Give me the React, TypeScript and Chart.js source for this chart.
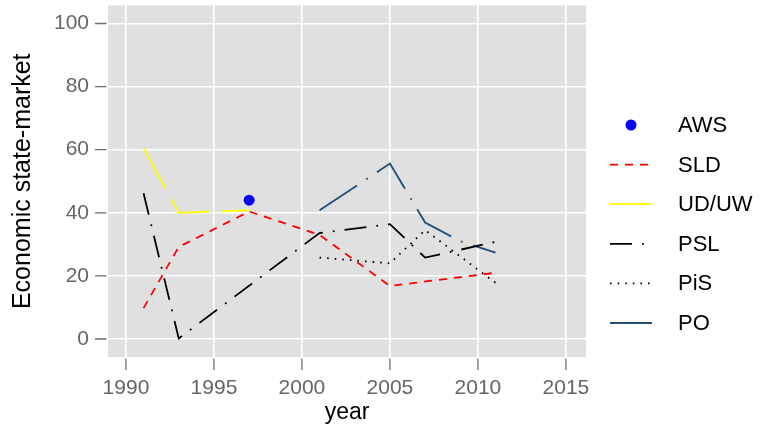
import React, { useEffect, useRef } from "react";
import { Chart, registerables } from "chart.js";

Chart.register(...registerables);

const xTicks = [1990, 1995, 2000, 2005, 2010, 2015];
const yTicks = [0, 20, 40, 60, 80, 100];

const awsYears = [1997];
const awsValues = [44];
const sldYears = [1991, 1993, 1997, 2001, 2005, 2011];
const sldValues = [9.8, 29.2, 40.4, 33, 16.8, 21];
const udYears = [1991, 1993, 1997];
const udValues = [60.4, 40, 40.8];
const pslYears = [1991, 1993, 2001, 2005, 2007, 2011];
const pslValues = [46.2, 0.2, 33.6, 36.4, 25.8, 30.8];
const pisYears = [2001, 2005, 2007, 2011];
const pisValues = [25.8, 24, 34.5, 17.8];
const poYears = [2001, 2005, 2007, 2009, 2011];
const poValues = [40.8, 55.6, 36.9, 31, 27.4];

const FONT = "'Liberation Sans', Arimo, Helvetica, Arial, sans-serif";

const pts = (xs: number[], ys: number[]) => xs.map((x, i) => ({ x, y: ys[i] }));

const panelBg = {
  id: "panelBg",
  beforeDraw(chart: any) {
    const { ctx, chartArea: a } = chart;
    ctx.save();
    ctx.fillStyle = "#e0e0e0";
    ctx.fillRect(a.left, a.top, a.right - a.left, a.bottom - a.top);
    ctx.restore();
  },
};

const tickMarks = {
  id: "tickMarks",
  afterDraw(chart: any) {
    const { ctx, chartArea: a, scales } = chart;
    ctx.save();
    ctx.strokeStyle = "#6e6e6e";
    ctx.lineWidth = 1.3;
    ctx.beginPath();
    for (const t of scales.x.ticks) {
      const px = scales.x.getPixelForValue(t.value);
      ctx.moveTo(px, a.bottom + 1.5);
      ctx.lineTo(px, a.bottom + 13);
    }
    for (const t of scales.y.ticks) {
      const py = scales.y.getPixelForValue(t.value);
      ctx.moveTo(a.left - 1.5, py);
      ctx.lineTo(a.left - 13, py);
    }
    ctx.stroke();
    ctx.restore();
  },
};

const customLegend = {
  id: "customLegend",
  afterDraw(chart: any) {
    const { ctx } = chart;
    const ds = chart.data.datasets;
    ctx.save();
    ctx.font = `22px ${FONT}`;
    ctx.textBaseline = "middle";
    ds.forEach((d: any, i: number) => {
      const y = 125 + i * 39.6;
      if (d.showLine === false) {
        ctx.fillStyle = d.backgroundColor;
        ctx.beginPath();
        ctx.arc(631, y, d.pointRadius, 0, Math.PI * 2);
        ctx.fill();
      } else {
        ctx.strokeStyle = d.borderColor;
        ctx.lineWidth = d.borderWidth;
        ctx.setLineDash(d.borderDash || []);
        ctx.beginPath();
        ctx.moveTo(610, y);
        ctx.lineTo(652, y);
        ctx.stroke();
        ctx.setLineDash([]);
      }
      ctx.fillStyle = "#000";
      ctx.fillText(d.label, 678, y + 1);
    });
    ctx.restore();
  },
};

export default function App() {
  const ref = useRef<HTMLCanvasElement | null>(null);
  useEffect(() => {
    if (!ref.current) return;
    const lineBase = { pointRadius: 0, fill: false, tension: 0, borderCapStyle: "butt" as const, borderJoinStyle: "miter" as const };
    const chart = new Chart(ref.current, {
      type: "line",
      data: {
        datasets: [
          { label: "AWS", data: pts(awsYears, awsValues), showLine: false, pointRadius: 5.5, backgroundColor: "#0000ff", borderColor: "#0000ff", borderWidth: 0 },
          { ...lineBase, label: "SLD", data: pts(sldYears, sldValues), borderColor: "#ff0000", borderWidth: 1.8, borderDash: [8, 7] },
          { ...lineBase, label: "UD/UW", data: pts(udYears, udValues), borderColor: "#ffff00", borderWidth: 1.8, borderDash: [46, 12] },
          { ...lineBase, label: "PSL", data: pts(pslYears, pslValues), borderColor: "#000000", borderWidth: 1.8, borderDash: [22, 10, 1.8, 10] },
          { ...lineBase, label: "PiS", data: pts(pisYears, pisValues), borderColor: "#000000", borderWidth: 1.8, borderDash: [1.6, 6] },
          { ...lineBase, label: "PO", data: pts(poYears, poValues), borderColor: "#1f4e79", borderWidth: 1.8, borderDash: [45, 11, 1.8, 11] },
        ],
      },
      options: {
        animation: false,
        responsive: false,
        maintainAspectRatio: false,
        parsing: true,
        layout: { padding: { left: 0, right: 176, top: 5, bottom: 0 } },
        plugins: { legend: { display: false }, tooltip: { enabled: false } },
        scales: {
          x: {
            type: "linear",
            min: 1988.98,
            max: 2016.14,
            afterBuildTicks: (s: any) => { s.ticks = xTicks.map((v) => ({ value: v })); },
            afterFit: (s: any) => { s.height = 75; s.paddingLeft = 0; s.paddingRight = 0; },
            grid: { color: "#ffffff", lineWidth: 1.6, drawTicks: false },
            border: { display: false },
            ticks: { color: "#666666", font: { family: FONT, size: 21 }, padding: 19, maxRotation: 0, autoSkip: false, callback: (v: any) => String(v) },
            title: { display: true, text: "year", color: "#000", font: { family: FONT, size: 23 }, padding: { top: 0, bottom: 6 } },
          },
          y: {
            type: "linear",
            min: -5.7,
            max: 105.7,
            afterBuildTicks: (s: any) => { s.ticks = yTicks.map((v) => ({ value: v })); },
            afterFit: (s: any) => { s.width = 108; s.paddingTop = 0; s.paddingBottom = 0; },
            grid: { color: "#ffffff", lineWidth: 1.6, drawTicks: false },
            border: { display: false },
            ticks: { color: "#666666", font: { family: FONT, size: 21 }, padding: 19, autoSkip: false, callback: (v: any) => String(v) },
            title: { display: true, text: "Economic state-market", color: "#000", font: { family: FONT, size: 25 }, padding: { top: 8, bottom: 0 } },
          },
        },
      },
      plugins: [panelBg, tickMarks, customLegend],
    });
    return () => chart.destroy();
  }, []);
  return (
    <div style={{ position: "fixed", left: 0, top: 0, width: 762, height: 432, background: "#fff" }}>
      <canvas ref={ref} width={762} height={432} style={{ display: "block" }} />
    </div>
  );
}
